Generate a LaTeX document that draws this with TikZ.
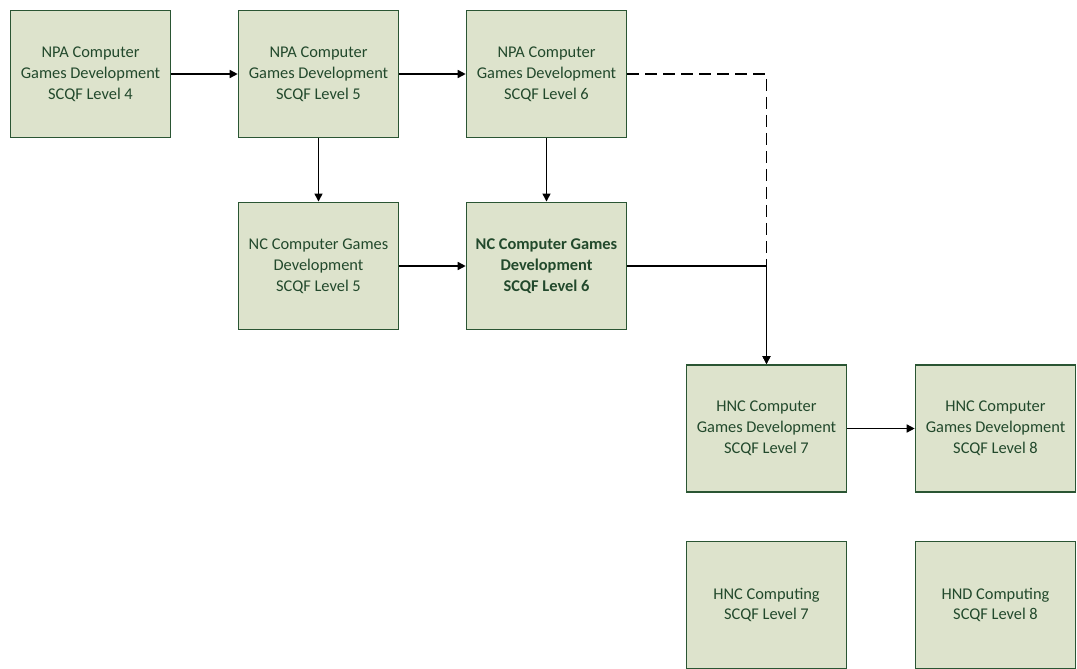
\documentclass[tikz,border=0pt]{standalone}
\usepackage{fontspec}
\setmainfont{Carlito}
\usetikzlibrary{arrows.meta}
\definecolor{boxfill}{HTML}{DDE3CC}
\definecolor{boxline}{HTML}{2A5533}
\definecolor{boxtext}{HTML}{22492C}
\tikzset{
  qual/.style={draw=boxline, fill=boxfill, line width=1.2pt, minimum width=120pt, minimum height=95.5pt,
    inner sep=0pt, align=center, text=boxtext, font=\fontsize{12.3}{15.6}\selectfont},
  link/.style={line width=1.1pt, -{Triangle[length=6pt,width=6pt]}},
}
\begin{document}
\begin{tikzpicture}[x=0.75pt,y=-0.75pt]
\useasboundingbox (0,0) rectangle (1077,668);
\node[qual] (b1) at (90.5,74) {NPA Computer\\Games Development\\SCQF Level 4};
\node[qual] (b2) at (318.5,74) {NPA Computer\\Games Development\\SCQF Level 5};
\node[qual] (b3) at (546.5,74) {NPA Computer\\Games Development\\SCQF Level 6};
\node[qual] (b4) at (318.5,266) {NC Computer Games\\Development\\SCQF Level 5};
\node[qual, font=\fontsize{12.3}{15.6}\selectfont\bfseries] (b5) at (546.5,266) {NC Computer Games\\Development\\SCQF Level 6};
\node[qual] (b6) at (766.5,428.5) {HNC Computer\\Games Development\\SCQF Level 7};
\node[qual] (b7) at (995.5,428.5) {HNC Computer\\Games Development\\SCQF Level 8};
\node[qual] (b8) at (766.5,605) {HNC Computing\\SCQF Level 7};
\node[qual] (b9) at (995.5,605) {HND Computing\\SCQF Level 8};
\draw[link] (b1) -- (b2);
\draw[link] (b2) -- (b3);
\draw[link] (b2) -- (b4);
\draw[link] (b3) -- (b5);
\draw[link] (b4) -- (b5);
\draw[link, dash pattern=on 9pt off 4.5pt] (b3.east) -| (b6.north);
\draw[link] (b5.east) -| (b6.north);
\draw[link] (b6) -- (b7);
\end{tikzpicture}
\end{document}
